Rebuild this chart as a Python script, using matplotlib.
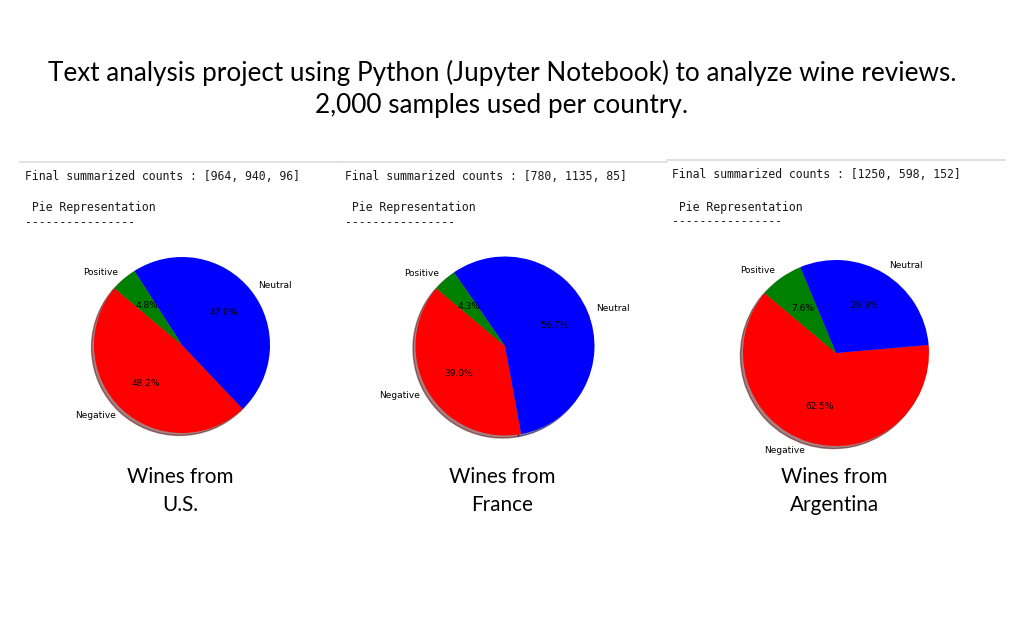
import matplotlib
matplotlib.use("Agg")
import matplotlib.pyplot as plt

W, H = 1013, 623

# ---- data ----
countries = ["U.S.", "France", "Argentina"]
categories = ["Negative", "Neutral", "Positive"]
counts_us = [964, 940, 96]
counts_france = [780, 1135, 85]
counts_argentina = [1250, 598, 152]
all_counts = [counts_us, counts_france, counts_argentina]
# percentage labels as printed in the reference
pct_us = ["48.2%", "47.0%", "4.8%"]
pct_france = ["39.0%", "56.7%", "4.3%"]
pct_argentina = ["62.5%", "29.9%", "7.6%"]
all_pcts = [pct_us, pct_france, pct_argentina]
colors = ["red", "blue", "green"]

title_lines = ["Text analysis project using Python (Jupyter Notebook) to analyze wine reviews.",
               "2,000 samples used per country."]

fig = plt.figure(figsize=(W / 100, H / 100), dpi=100)
fig.patch.set_facecolor("white")
renderer = fig.canvas.get_renderer()


def fx(x):
    return x / W


def fy(y):
    return 1 - y / H


def fit_width(txt, target_px):
    bb = txt.get_window_extent(renderer=renderer)
    txt.set_fontsize(txt.get_fontsize() * target_px / bb.width)


title_font = "Lato"
t1 = fig.text(fx(502), fy(73), title_lines[0], ha="center", va="center",
              fontsize=16, family=title_font, color="black")
fit_width(t1, 910)
t2 = fig.text(fx(502), fy(106), title_lines[1], ha="center", va="center",
              fontsize=t1.get_fontsize(), family=title_font, color="black")

panels = [
    dict(x0=20, x1=342, liney=162, tx=25, ty=176, cx=182, cy=345, r=88, capx=180),
    dict(x0=340, x1=667, liney=162, tx=345, ty=176, cx=505, cy=346, r=89.5, capx=502),
    dict(x0=667, x1=1005, liney=160, tx=672, ty=175, cx=836, cy=353, r=93, capx=834),
]

line_ax = fig.add_axes([0, 0, 1, 1], zorder=-1)
line_ax.set_xlim(0, W)
line_ax.set_ylim(H, 0)
line_ax.axis("off")

mono = "DejaVu Sans Mono"
cap_size = None
for p, counts, pcts, country in zip(panels, all_counts, all_pcts, countries):
    line_ax.plot([p["x0"], p["x1"]], [p["liney"], p["liney"]], color="#dddddd", lw=1.2)
    fig.text(fx(p["tx"]), fy(p["ty"]),
             "Final summarized counts : [" + ", ".join(str(c) for c in counts) + "]",
             ha="left", va="center", family=mono, fontsize=8.3, color="#1a1a1a")
    fig.text(fx(p["tx"]), fy(p["ty"] + 32), " Pie Representation",
             ha="left", va="center", family=mono, fontsize=8.3, color="#1a1a1a")
    fig.text(fx(p["tx"]), fy(p["ty"] + 47), "-" * 16,
             ha="left", va="center", family=mono, fontsize=8.3, color="#1a1a1a")

    r = p["r"]
    ax = fig.add_axes([fx(p["cx"] - 1.25 * r), fy(p["cy"] + 1.25 * r), 2.5 * r / W, 2.5 * r / H])
    it = iter(pcts)
    wedges, texts, autotexts = ax.pie(counts, labels=categories, colors=colors,
                                      autopct=lambda v, it=it: next(it),
                                      startangle=140, shadow=True,
                                      textprops=dict(fontsize=6.5))
    ax.set_aspect("equal")

    c1 = fig.text(fx(p["capx"]), fy(477), "Wines from", ha="center", va="center",
                  fontsize=14, family=title_font)
    if cap_size is None:
        fit_width(c1, 107)
        cap_size = c1.get_fontsize()
    c1.set_fontsize(cap_size)
    fig.text(fx(p["capx"]), fy(505), country, ha="center", va="center",
             fontsize=cap_size, family=title_font)

fig.savefig("out.png", dpi=100, facecolor="white")
